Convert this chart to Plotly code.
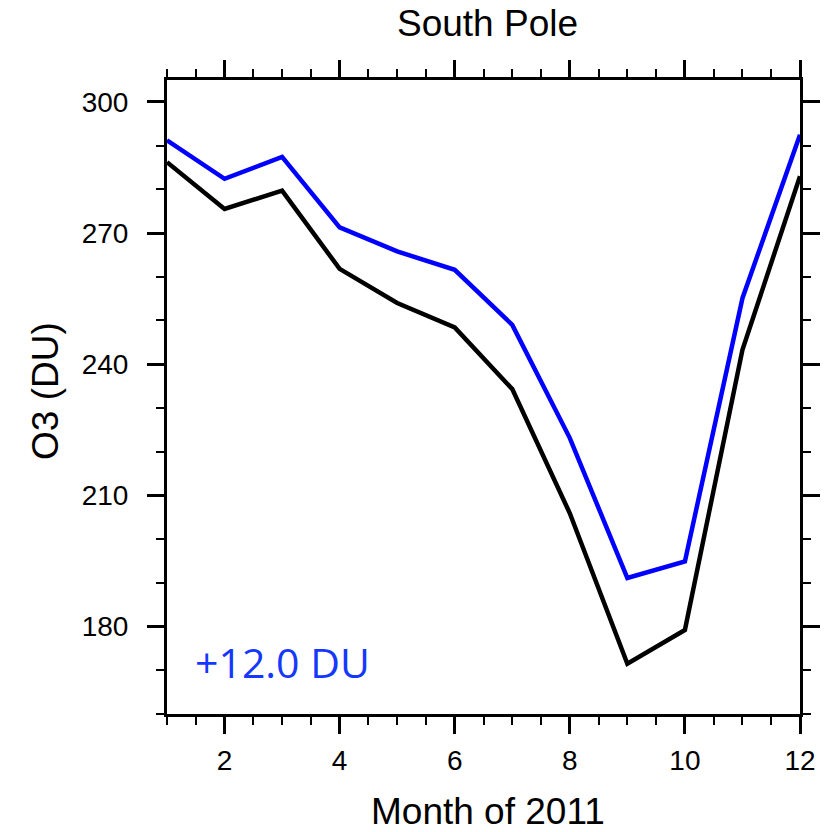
import plotly.graph_objects as go

months = [1, 2, 3, 4, 5, 6, 7, 8, 9, 10, 11, 12]
o3_black = [286.2, 275.5, 279.7, 261.8, 254.0, 248.4, 234.3, 205.9, 171.5, 179.2, 243.3, 283.0]
o3_blue = [291.2, 282.4, 287.4, 271.3, 265.8, 261.6, 249.0, 223.1, 191.1, 194.9, 255.1, 292.5]
x_ticks = [2, 4, 6, 8, 10, 12]
y_ticks = [180, 210, 240, 270, 300]

FONT = "Liberation Sans, Arial, sans-serif"

fig = go.Figure()
fig.add_trace(go.Scatter(x=months, y=o3_black, mode="lines",
                         line=dict(color="black", width=4.5), showlegend=False))
fig.add_trace(go.Scatter(x=months, y=o3_blue, mode="lines",
                         line=dict(color="#0000ff", width=4.5), showlegend=False))

axis_common = dict(
    showline=True, linecolor="black", linewidth=3, mirror="ticks",
    ticks="outside", ticklen=17, tickwidth=3, tickcolor="black",
    showgrid=False, zeroline=False, automargin=False,
    tickfont=dict(family=FONT, size=28, color="black"),
)

fig.update_xaxes(range=[1, 12], tickvals=x_ticks, ticklabelstandoff=2,
                 minor=dict(dtick=0.5, tick0=1, ticks="outside", ticklen=8, tickwidth=2, tickcolor="black"),
                 **axis_common)
fig.update_yaxes(range=[160, 305], tickvals=y_ticks, ticklabelstandoff=13,
                 minor=dict(dtick=10, tick0=160, ticks="outside", ticklen=8, tickwidth=2, tickcolor="black"),
                 **axis_common)

fig.add_annotation(text="South Pole", xref="paper", yref="paper", x=0.5, y=1,
                   xshift=4, yshift=57, xanchor="center", yanchor="middle", showarrow=False,
                   font=dict(family=FONT, size=37, color="black"))
fig.add_annotation(text="Month of 2011", xref="paper", yref="paper", x=0.5, y=0,
                   xshift=4, yshift=-97, xanchor="center", yanchor="middle", showarrow=False,
                   font=dict(family=FONT, size=37, color="black"))
fig.add_annotation(text="O3 (DU)", xref="paper", yref="paper", x=0, y=0.5,
                   xshift=-122, yshift=6, xanchor="center", yanchor="middle", textangle=-90,
                   showarrow=False, font=dict(family=FONT, size=37, color="black"))
fig.add_annotation(text="+12.0 DU", xref="x", yref="y", x=1.45, y=171.9,
                   xanchor="left", yanchor="middle", showarrow=False,
                   font=dict(family="Open Sans, sans-serif", size=41, color="#1438ff"))

fig.update_layout(
    width=825, height=832,
    margin=dict(l=167, r=25, t=80, b=118),
    paper_bgcolor="white", plot_bgcolor="white",
)

fig.write_html("out.html")
